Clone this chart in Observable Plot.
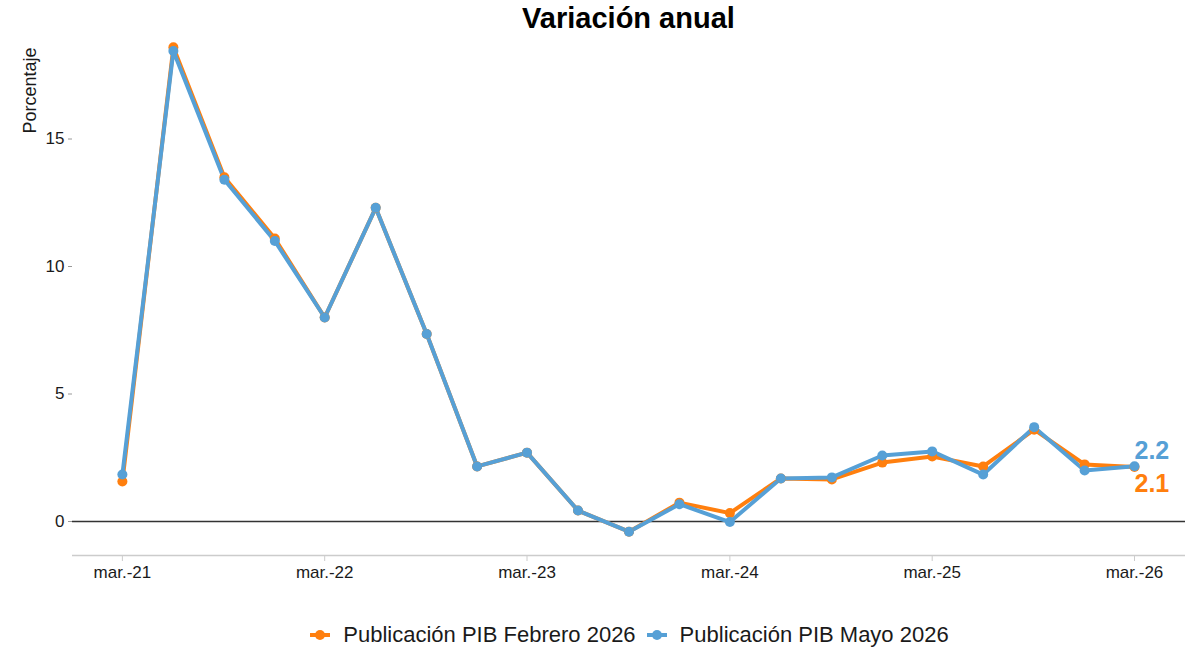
<!DOCTYPE html>
<html><head><meta charset="utf-8">
<script src="https://cdn.jsdelivr.net/npm/d3@7"></script>
<script src="https://cdn.jsdelivr.net/npm/@observablehq/plot@0.6"></script>
<style>
body{margin:0;background:#fff;font-family:"Liberation Sans",Arial,sans-serif;}
#title{height:30px;line-height:36px;font-weight:bold;font-size:29px;text-align:center;padding-left:58px;box-sizing:border-box;width:1199px;color:#000;}
#legend{display:flex;justify-content:center;align-items:center;gap:11px;width:1199px;padding-left:60px;box-sizing:border-box;margin-top:26px;font-size:22px;color:#1a1a1a;}
.item{display:flex;align-items:center;gap:13px;}
.sym{position:relative;width:20px;height:12px;}
.sym .ln{position:absolute;left:0;top:4px;width:20px;height:4px;}
.sym .dt{position:absolute;left:5px;top:1px;width:10px;height:10px;border-radius:50%;}
</style></head>
<body>
<div id="title">Variación anual</div>
<div id="chart"></div>
<div id="legend"></div>
<script>
const quarters = ["2021-03","2021-06","2021-09","2021-12","2022-03","2022-06","2022-09","2022-12","2023-03","2023-06","2023-09","2023-12","2024-03","2024-06","2024-09","2024-12","2025-03","2025-06","2025-09","2025-12","2026-03"];
const febValues = [1.57,18.6,13.5,11.1,8.0,12.3,7.35,2.16,2.7,0.43,-0.4,0.74,0.33,1.69,1.65,2.31,2.55,2.16,3.6,2.24,2.14];
const mayValues = [1.84,18.45,13.4,11.0,8.0,12.3,7.35,2.16,2.7,0.43,-0.4,0.68,-0.02,1.69,1.73,2.59,2.75,1.84,3.7,2.0,2.17];
const seriesNames = ["Publicación PIB Febrero 2026","Publicación PIB Mayo 2026"];
const seriesColors = ["#ff7f0e","#56a0d6"];
const endLabels = ["2.1","2.2"];
const xTicks = ["2021-03","2022-03","2023-03","2024-03","2025-03","2026-03"];
const yTicks = [0,5,10,15];

const parse = s => new Date(s + "-01T00:00:00Z");
const fmtMonth = d => "mar.-" + String(d.getUTCFullYear()).slice(2);
const data = [];
quarters.forEach((q,i)=>{ data.push({date:parse(q), value:febValues[i], s:seriesNames[0]}); });
quarters.forEach((q,i)=>{ data.push({date:parse(q), value:mayValues[i], s:seriesNames[1]}); });
const lastIdx = quarters.length-1;
const lastFeb = {date:parse(quarters[lastIdx]), value:febValues[lastIdx], s:seriesNames[0], label:endLabels[0]};
const lastMay = {date:parse(quarters[lastIdx]), value:mayValues[lastIdx], s:seriesNames[1], label:endLabels[1]};

const chart = Plot.plot({
  width:1199, height:566,
  marginLeft:72, marginRight:14, marginTop:6, marginBottom:41,
  style:{fontFamily:'"Liberation Sans",Arial,sans-serif', fontSize:"17px", color:"#1a1a1a"},
  x:{type:"utc", domain:[parse("2020-12"), parse("2026-06")]},
  y:{domain:[-1.333,19.02]},
  color:{domain:seriesNames, range:seriesColors},
  marks:[
    Plot.ruleY([-1.333],{stroke:"#cccccc", strokeWidth:1.5}),
    Plot.ruleY([0],{stroke:"#333", strokeWidth:1.5}),
    Plot.axisY({ticks:yTicks, tickSize:4, tickPadding:4, stroke:"#999", label:null, fontSize:17}),
    Plot.axisX({ticks:xTicks.map(parse), tickFormat:fmtMonth, tickSize:6, tickPadding:4, stroke:"#ccc", label:null, fontSize:17}),
    Plot.line(data,{x:"date", y:"value", z:"s", stroke:"s", strokeWidth:4, strokeLinejoin:"round"}),
    Plot.dot(data,{x:"date", y:"value", fill:"s", r:5}),
    Plot.text([lastFeb],{x:"date", y:"value", text:"label", fill:seriesColors[0], textAnchor:"start", dx:0, dy:17, fontSize:25, fontWeight:"bold"}),
    Plot.text([lastMay],{x:"date", y:"value", text:"label", fill:seriesColors[1], textAnchor:"start", dx:0, dy:-15, fontSize:25, fontWeight:"bold"}),
    Plot.text(["Porcentaje"],{frameAnchor:"top-left", text:d=>d, rotate:-90, textAnchor:"end", lineAnchor:"middle", dx:-42, dy:11, fontSize:18, fill:"#1a1a1a"})
  ]
});
document.getElementById("chart").appendChild(chart);

const legend = document.getElementById("legend");
seriesNames.forEach((n,i)=>{
  const it = document.createElement("div"); it.className="item";
  it.innerHTML = `<div class="sym"><div class="ln" style="background:${seriesColors[i]}"></div><div class="dt" style="background:${seriesColors[i]}"></div></div><span>${n}</span>`;
  legend.appendChild(it);
});
</script>
</body></html>
